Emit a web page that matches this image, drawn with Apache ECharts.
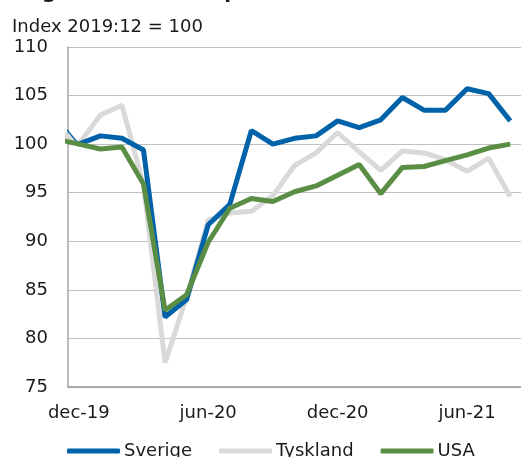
<!DOCTYPE html>
<html>
<head>
<meta charset="utf-8">
<script src="https://cdn.jsdelivr.net/npm/echarts@6/dist/echarts.min.js"></script>
<style>html,body{margin:0;padding:0;background:#fff;}#c{width:521px;height:457px;}</style>
</head>
<body>
<div id="c"></div>
<script>
const categories = ['nov-19','dec-19','jan-20','feb-20','mar-20','apr-20','may-20','jun-20','jul-20','aug-20','sep-20','oct-20','nov-20','dec-20','jan-21','feb-21','mar-21','apr-21','may-21','jun-21','jul-21','aug-21'];
const sverige  = [102.7, 100.0, 100.85, 100.6, 99.4, 82.2, 84.0, 91.7, 93.8, 101.4, 100.0, 100.6, 100.85, 102.4, 101.7, 102.5, 104.8, 103.5, 103.5, 105.7, 105.2, 102.4];
const tyskland = [101.5, 100.0, 103.0, 104.0, 95.8, 77.5, 84.3, 92.2, 92.9, 93.1, 94.7, 97.8, 99.1, 101.2, 99.2, 97.3, 99.3, 99.1, 98.4, 97.2, 98.55, 94.6];
const usa      = [100.5, 100.0, 99.5, 99.7, 95.9, 82.9, 84.5, 89.9, 93.4, 94.4, 94.1, 95.1, 95.7, 96.8, 97.9, 94.9, 97.6, 97.7, 98.3, 98.9, 99.6, 100.0];
const tickLabels = ['dec-19','jun-20','dec-20','jun-21'];
const yTicks = [75, 80, 85, 90, 95, 100, 105, 110];
const seriesNames = ['Sverige','Tyskland','USA'];

const toXY = (arr, start) => arr.map((v, i) => [i - 1, v]).slice(start || 0);
const tickPos = tickLabels.map(l => categories.indexOf(l) - 1);
const FONT = 'DejaVu Sans';

const chart = echarts.init(document.getElementById('c'));
chart.setOption({
  animation: false,
  textStyle: { fontFamily: FONT, color: '#1a1a1a' },
  graphic: [
    { type: 'text', left: 5, top: -17, style: { text: 'Diagram 8. Industriproduktion', font: 'bold 20px "DejaVu Sans"', fill: '#1a1a1a' } },
    { type: 'text', left: 12, top: 18, style: { text: 'Index 2019:12 = 100', font: '18px "DejaVu Sans"', fill: '#1a1a1a' } }
  ],
  grid: { left: 68, right: 0, top: 47, bottom: 70, containLabel: false, outerBoundsMode: 'none' },
  legend: {
    data: seriesNames,
    left: 67, top: 442, padding: 0,
    itemGap: 27, itemWidth: 53, itemHeight: 5,
    icon: 'roundRect',
    textStyle: { fontFamily: FONT, fontSize: 18, color: '#1a1a1a', padding: [0, 0, 0, -1] }
  },
  xAxis: {
    type: 'value', min: -0.5, max: categories.length - 1.5,
    axisLine: { show: true, onZero: false, lineStyle: { color: '#999999', width: 1.5 } },
    axisTick: { show: false },
    splitLine: { show: false },
    axisLabel: {
      customValues: tickPos,
      formatter: v => categories[Math.round(v) + 1],
      fontFamily: FONT, fontSize: 18, color: '#1a1a1a', margin: 17
    }
  },
  yAxis: {
    type: 'value', min: yTicks[0], max: yTicks[yTicks.length - 1], interval: 5,
    axisLine: { show: true, onZero: false, lineStyle: { color: '#a6a6a6', width: 1.5 } },
    axisTick: { show: false },
    splitLine: { show: true, lineStyle: { color: '#c0c0c0', width: 1.2 } },
    axisLabel: { fontFamily: FONT, fontSize: 18, color: '#1a1a1a', margin: 20 }
  },
  series: [
    { name: 'Tyskland', type: 'line', data: toXY(tyskland), showSymbol: false, symbol: 'none',
      lineStyle: { color: '#d9d9d9', width: 5 }, itemStyle: { color: '#d9d9d9' }, z: 2 },
    { name: 'Sverige', type: 'line', data: toXY(sverige, 1), showSymbol: false, symbol: 'none',
      lineStyle: { color: '#0062a8', width: 5 }, itemStyle: { color: '#0062a8' }, z: 3 },
    { type: 'line', data: toXY(sverige).slice(0, 2), showSymbol: false, symbol: 'none',
      lineStyle: { color: '#0062a8', width: 1.5 }, z: 3, silent: true },
    { name: 'USA', type: 'line', data: toXY(usa), showSymbol: false, symbol: 'none',
      lineStyle: { color: '#5b8e45', width: 5 }, itemStyle: { color: '#5b8e45' }, z: 4 }
  ]
});
</script>
</body>
</html>
